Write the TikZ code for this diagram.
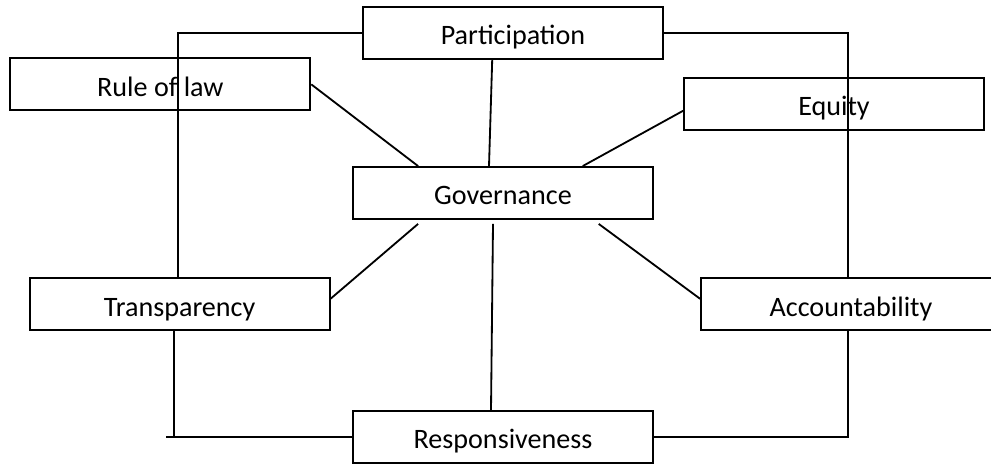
\documentclass[tikz,border=0pt]{standalone}
\usepackage{fontspec}
\setmainfont{Carlito}
\usepackage{tikz}

\begin{document}
\begin{tikzpicture}[line width=1.3pt,
  box/.style={draw, rectangle, minimum width=7.5cm, minimum height=1.3cm,
    inner sep=0pt, text height=17pt, text depth=0pt,
    font=\fontsize{20}{24}\selectfont}]
\useasboundingbox (0,0) rectangle (24.775,11.6);
% boxes
\node[box] (part) at (12.825,10.775) {Participation};
\node[box] (rule) at (4.01,9.49) {Rule of law};
\node[box] (equi) at (20.85,9.0) {Equity};
\node[box] (gov) at (12.575,6.775) {Governance};
\node[box] (trans) at (4.49,3.99) {Transparency};
\node[box] (acc) at (21.275,3.99) {Accountability};
\node[box] (resp) at (12.575,0.675) {Responsiveness};
% outer frame
\draw (part.west) -| ([xshift=-0.04cm]trans.north);
\draw (part.east) -| ([xshift=-0.08cm]acc.north);
\draw ([xshift=-0.14cm]trans.south) |- (resp.west);
\draw (resp.west) -- ++(-4.65,0);
\draw ([xshift=-0.08cm]acc.south) |- (resp.east);
% spokes
\draw ([xshift=-0.52cm]part.south) -- ([xshift=-0.35cm]gov.north);
\draw (rule.east) -- ([xshift=1.65cm]gov.north west);
\draw ([yshift=-0.17cm]equi.west) -- ([xshift=-1.78cm]gov.north east);
\draw ([xshift=1.65cm,yshift=-0.1cm]gov.south west) -- ([yshift=0.14cm]trans.east);
\draw ([xshift=-0.25cm,yshift=-0.1cm]gov.south) -- ([xshift=-0.3cm]resp.north);
\draw ([xshift=-1.38cm,yshift=-0.1cm]gov.south east) -- ([yshift=0.14cm]acc.west);
\end{tikzpicture}
\end{document}
